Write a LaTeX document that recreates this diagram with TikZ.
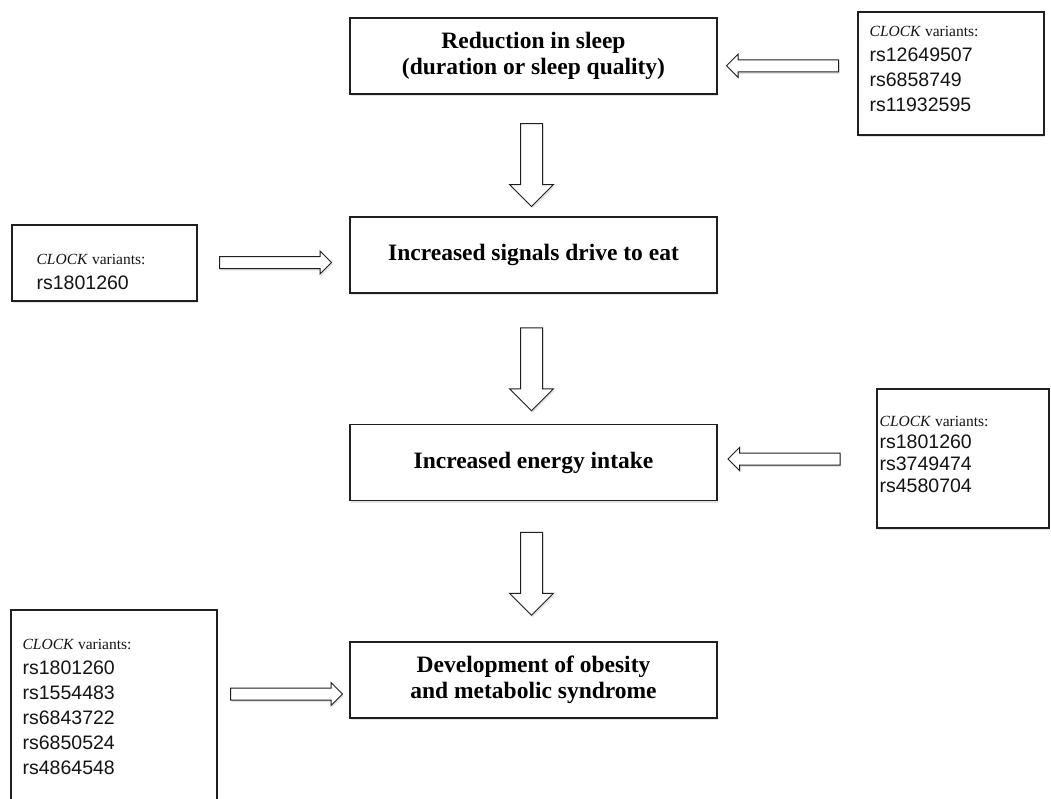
\documentclass[tikz,border=0pt]{standalone}
\usepackage{fontspec}
\setmainfont{Liberation Serif}
\newfontfamily\rsfont{Liberation Sans}
\usetikzlibrary{positioning,calc,shapes.arrows,shadows}

\tikzset{
  softshadow/.style={drop shadow={shadow xshift=1pt,shadow yshift=-2pt,opacity=.18,fill=black!60}},
  stage/.style={draw=black!88,line width=1.1pt,fill=white,softshadow,
    minimum width=367pt,minimum height=76pt,inner sep=0pt,align=center,
    font=\fontsize{23.5}{26}\selectfont\bfseries},
  varbox/.style={draw=black!88,line width=1.1pt,fill=white,softshadow,inner sep=0pt},
  vartext/.style={inner sep=0pt,align=left,text=black!92,font=\fontsize{15.5}{25}\selectfont},
  downarr/.style={single arrow,draw=black!88,line width=1pt,fill=white,softshadow,
    rotate=-90,minimum height=83pt,text height=21pt,inner sep=0pt,
    single arrow head extend=11pt},
  sidearr/.style={single arrow,draw=black!88,line width=1pt,fill=white,softshadow,
    minimum height=112pt,text height=11pt,inner sep=0pt,
    single arrow head extend=5.5pt},
}
\newcommand\rsno[1]{{\rsfont\fontsize{19.5}{25}\selectfont #1}}

\begin{document}
\begin{tikzpicture}[x=1pt,y=-1pt]
\fill[white] (0,0) rectangle (1051,798);
\useasboundingbox (0,0) rectangle (1051,798);

% main chain
\node[stage] (sleep)   at (533.5,56)  {Reduction in sleep\\(duration or sleep quality)};
\node[stage] (signal)  at (533.5,255) {Increased signals drive to eat};
\node[stage] (energy)  at (533.5,462.5) {Increased energy intake};
\node[stage] (obesity) at (533.5,680) {Development of obesity\\and metabolic syndrome};

% CLOCK boxes
\node[varbox,minimum width=186pt,minimum height=123pt] (varsleep) at (951,73.5) {};
\node[varbox,minimum width=185pt,minimum height=76pt] (vareat) at (104.5,263) {};
\node[varbox,minimum width=172pt,minimum height=139pt] (varintake) at (963,458.5) {};
\node[varbox,minimum width=206pt,minimum height=230pt] (varobese) at (114,725) {};

\node[vartext,below right=15pt and 12pt of varsleep.north west] (txtsleep)
  {\textit{CLOCK} variants:\\\rsno{rs12649507}\\\rsno{rs6858749}\\\rsno{rs11932595}};
\node[vartext,below right=30pt and 25pt of vareat.north west] (txteat)
  {\textit{CLOCK} variants:\\\rsno{rs1801260}};
\node[vartext,below right=28pt and 3pt of varintake.north west,
      font=\fontsize{15.5}{22}\selectfont] (txtintake)
  {\textit{CLOCK} variants:\\\rsno{rs1801260}\\\rsno{rs3749474}\\\rsno{rs4580704}};
\node[vartext,below right=30pt and 12pt of varobese.north west] (txtobese)
  {\textit{CLOCK} variants:\\\rsno{rs1801260}\\\rsno{rs1554483}\\\rsno{rs6843722}\\\rsno{rs6850524}\\\rsno{rs4864548}};

% block arrows
\node[downarr] (dn1) at ($(sleep.south)!.5!(signal.north)+(-2,4)$) {};
\node[downarr] (dn2) at ($(signal.south)!.5!(energy.north)+(-2,5)$) {};
\node[downarr] (dn3) at ($(energy.south)!.5!(obesity.north)+(-2,-3)$) {};
\node[sidearr,rotate=180] (in1) at ($(sleep.east)!.5!(varsleep.west)+(-2,1)$) {};
\node[sidearr] (in2) at ($(vareat.east)!.5!(signal.west)+(-1,3.5)$) {};
\node[sidearr,rotate=180] (in3) at ($(energy.east)!.5!(varintake.west)+(-10,-1.5)$) {};
\node[sidearr] (in4) at ($(varobese.east)!.5!(obesity.west)+(0,-8.5)$) {};
\end{tikzpicture}
\end{document}
